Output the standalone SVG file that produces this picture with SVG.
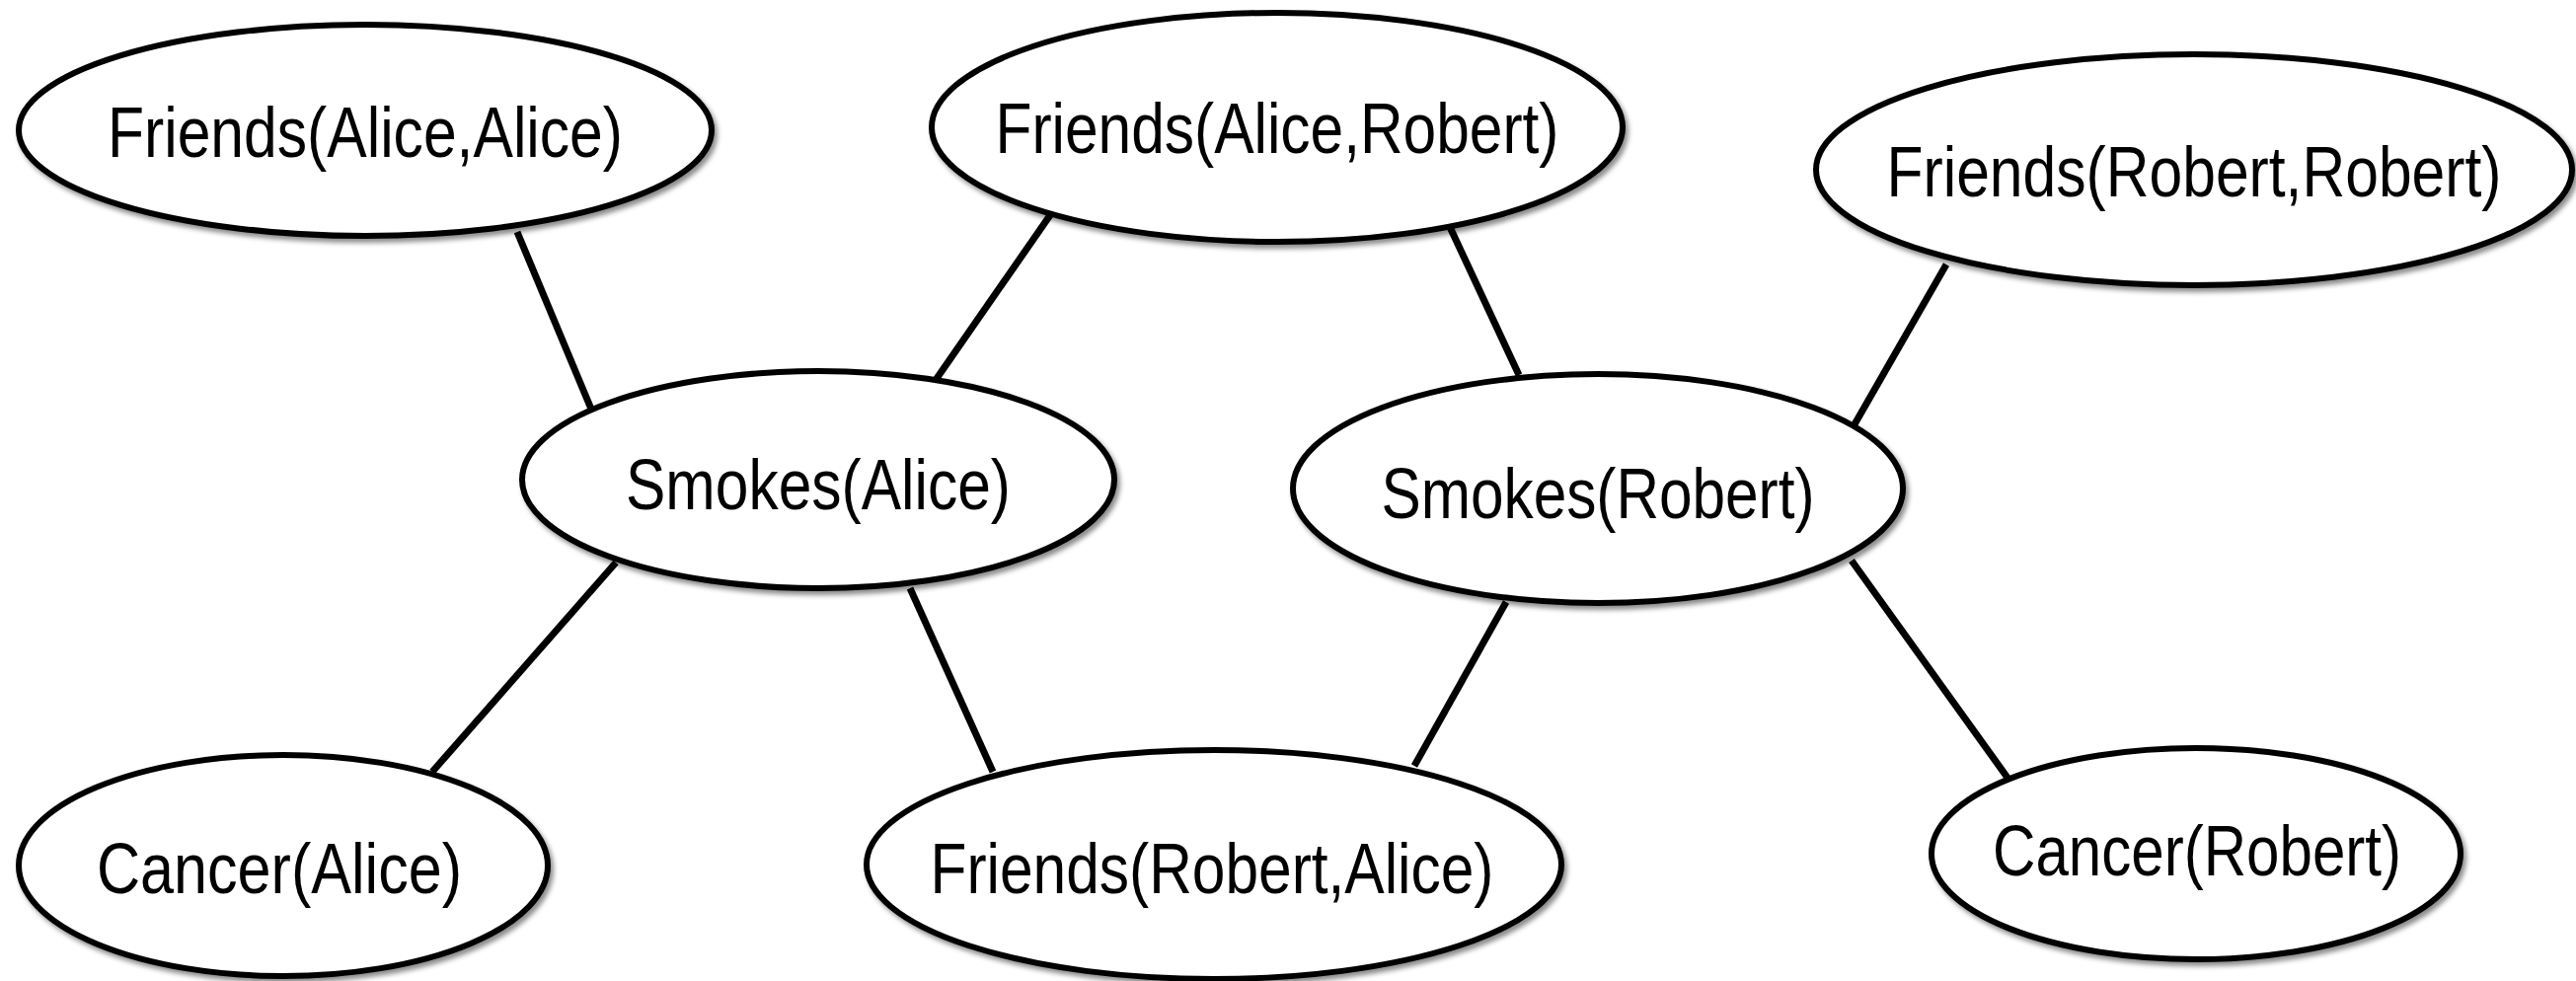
<svg xmlns="http://www.w3.org/2000/svg" width="2610" height="994" viewBox="0 0 2610 994">
<defs>
<filter id="sh" x="-10%" y="-10%" width="120%" height="130%">
<feDropShadow dx="3" dy="4" stdDeviation="2.5" flood-color="#000" flood-opacity="0.45"/>
</filter>
</defs>
<style>
.node ellipse{fill:#fff;stroke:#000;stroke-width:6}
.node text{font-family:"Liberation Sans",Arial,sans-serif;font-size:72px;fill:#000;text-anchor:middle}
.node{filter:url(#sh)}
#connectors line{stroke:#000;stroke-width:7;stroke-linecap:butt}
</style>
<rect width="2610" height="994" fill="#fff"/>
<g id="connectors">
<line x1="524" y1="235" x2="603" y2="424"/>
<line x1="1064" y1="218" x2="948" y2="385"/>
<line x1="1469" y1="230" x2="1539" y2="380"/>
<line x1="1972" y1="268" x2="1879" y2="430"/>
<line x1="624" y1="570" x2="438" y2="782"/>
<line x1="922" y1="596" x2="1006" y2="782"/>
<line x1="1526" y1="610" x2="1433" y2="776"/>
<line x1="1876" y1="568" x2="2034" y2="788"/>
</g>
<g id="friends-alice-alice" class="node">
<ellipse cx="370" cy="132" rx="351" ry="107"/>
<text x="370" y="159" textLength="522" lengthAdjust="spacingAndGlyphs">Friends(Alice,Alice)</text>
</g>
<g id="friends-alice-robert" class="node">
<ellipse cx="1294" cy="129" rx="350" ry="116"/>
<text x="1294" y="155" textLength="571" lengthAdjust="spacingAndGlyphs">Friends(Alice,Robert)</text>
</g>
<g id="friends-robert-robert" class="node">
<ellipse cx="2223" cy="172" rx="383" ry="117"/>
<text x="2223" y="199" textLength="623" lengthAdjust="spacingAndGlyphs">Friends(Robert,Robert)</text>
</g>
<g id="smokes-alice" class="node">
<ellipse cx="829" cy="486" rx="300" ry="110"/>
<text x="829" y="516" textLength="390" lengthAdjust="spacingAndGlyphs">Smokes(Alice)</text>
</g>
<g id="smokes-robert" class="node">
<ellipse cx="1619" cy="495" rx="309" ry="116"/>
<text x="1619" y="525" textLength="439" lengthAdjust="spacingAndGlyphs">Smokes(Robert)</text>
</g>
<g id="cancer-alice" class="node">
<ellipse cx="287" cy="877" rx="268" ry="112"/>
<text x="283" y="905" textLength="370" lengthAdjust="spacingAndGlyphs">Cancer(Alice)</text>
</g>
<g id="friends-robert-alice" class="node">
<ellipse cx="1230" cy="876" rx="352" ry="116"/>
<text x="1228" y="905" textLength="571" lengthAdjust="spacingAndGlyphs">Friends(Robert,Alice)</text>
</g>
<g id="cancer-robert" class="node">
<ellipse cx="2225" cy="865" rx="268" ry="107"/>
<text x="2226" y="887" textLength="414" lengthAdjust="spacingAndGlyphs">Cancer(Robert)</text>
</g>
</svg>
